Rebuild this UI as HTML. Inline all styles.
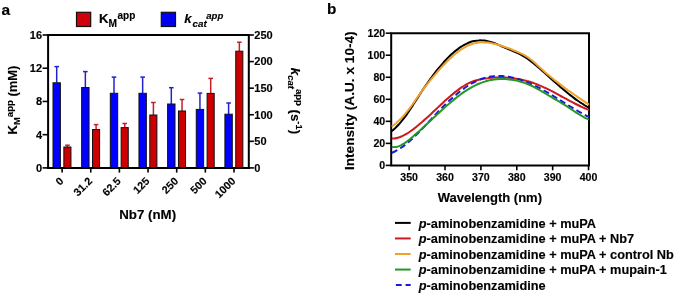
<!DOCTYPE html>
<html><head><meta charset="utf-8"><style>
html,body{margin:0;padding:0;background:#fff;width:675px;height:294px;overflow:hidden;}
svg{display:block;will-change:transform;font-family:"Liberation Sans",sans-serif;}
text{stroke:#000;stroke-width:0.15px;}
</style></head><body>
<svg width="675" height="294" viewBox="0 0 675 294"><text x="1.6" y="14.5" font-size="15.5" font-family="'Liberation Sans', sans-serif" font-weight="bold" fill="#000">a</text>
<rect x="76.5" y="12.3" width="14.2" height="14.2" fill="#d0000a" stroke="#111" stroke-width="1.2"/>
<text x="98.9" y="23.3" font-size="13.2" font-family="'Liberation Sans', sans-serif" font-weight="bold">K</text>
<text x="108.5" y="26.7" font-size="10.2" font-family="'Liberation Sans', sans-serif" font-weight="bold">M</text>
<text x="117.5" y="19.0" font-size="10" font-family="'Liberation Sans', sans-serif" font-weight="bold">app</text>
<rect x="161.3" y="12.3" width="14.2" height="14.2" fill="#0000f0" stroke="#111" stroke-width="1.2"/>
<text x="184.3" y="23.3" font-size="13.2" font-family="'Liberation Sans', sans-serif" font-weight="bold" font-style="italic">k</text>
<text x="192.5" y="26.7" font-size="9.8" font-family="'Liberation Sans', sans-serif" font-weight="bold" font-style="italic">cat</text>
<text x="206.2" y="19.0" font-size="9.6" font-family="'Liberation Sans', sans-serif" font-weight="bold" font-style="italic">app</text>
<path d="M48.10,35.00 H248.80 V167.90 H48.10 Z" fill="none" stroke="#000" stroke-width="2"/>
<line x1="42.6" y1="167.90" x2="48.10" y2="167.90" stroke="#000" stroke-width="1.6"/>
<text x="42.1" y="171.80" font-size="11" font-family="'Liberation Sans', sans-serif" font-weight="bold" text-anchor="end">0</text>
<line x1="42.6" y1="134.68" x2="48.10" y2="134.68" stroke="#000" stroke-width="1.6"/>
<text x="42.1" y="138.58" font-size="11" font-family="'Liberation Sans', sans-serif" font-weight="bold" text-anchor="end">4</text>
<line x1="42.6" y1="101.45" x2="48.10" y2="101.45" stroke="#000" stroke-width="1.6"/>
<text x="42.1" y="105.35" font-size="11" font-family="'Liberation Sans', sans-serif" font-weight="bold" text-anchor="end">8</text>
<line x1="42.6" y1="68.22" x2="48.10" y2="68.22" stroke="#000" stroke-width="1.6"/>
<text x="42.1" y="72.12" font-size="11" font-family="'Liberation Sans', sans-serif" font-weight="bold" text-anchor="end">12</text>
<line x1="42.6" y1="35.00" x2="48.10" y2="35.00" stroke="#000" stroke-width="1.6"/>
<text x="42.1" y="38.90" font-size="11" font-family="'Liberation Sans', sans-serif" font-weight="bold" text-anchor="end">16</text>
<line x1="248.80" y1="167.90" x2="253.9" y2="167.90" stroke="#000" stroke-width="1.6"/>
<text x="254.3" y="171.70" font-size="11" font-family="'Liberation Sans', sans-serif" font-weight="bold">0</text>
<line x1="248.80" y1="141.32" x2="253.9" y2="141.32" stroke="#000" stroke-width="1.6"/>
<text x="254.3" y="145.12" font-size="11" font-family="'Liberation Sans', sans-serif" font-weight="bold">50</text>
<line x1="248.80" y1="114.74" x2="253.9" y2="114.74" stroke="#000" stroke-width="1.6"/>
<text x="254.3" y="118.54" font-size="11" font-family="'Liberation Sans', sans-serif" font-weight="bold">100</text>
<line x1="248.80" y1="88.16" x2="253.9" y2="88.16" stroke="#000" stroke-width="1.6"/>
<text x="254.3" y="91.96" font-size="11" font-family="'Liberation Sans', sans-serif" font-weight="bold">150</text>
<line x1="248.80" y1="61.58" x2="253.9" y2="61.58" stroke="#000" stroke-width="1.6"/>
<text x="254.3" y="65.38" font-size="11" font-family="'Liberation Sans', sans-serif" font-weight="bold">200</text>
<line x1="248.80" y1="35.00" x2="253.9" y2="35.00" stroke="#000" stroke-width="1.6"/>
<text x="254.3" y="38.80" font-size="11" font-family="'Liberation Sans', sans-serif" font-weight="bold">250</text>
<line x1="56.70" y1="66.60" x2="56.70" y2="82.80" stroke="#2222cc" stroke-width="1.5"/>
<line x1="54.40" y1="66.60" x2="59.00" y2="66.60" stroke="#2222cc" stroke-width="1.5"/>
<line x1="67.45" y1="145.20" x2="67.45" y2="147.00" stroke="#c81e2a" stroke-width="1.5"/>
<line x1="65.15" y1="145.20" x2="69.75" y2="145.20" stroke="#c81e2a" stroke-width="1.5"/>
<rect x="53.00" y="82.80" width="7.4" height="85.10" fill="#0000ff" stroke="#111" stroke-width="1"/>
<rect x="63.85" y="147.00" width="7.1" height="20.90" fill="#cc0000" stroke="#111" stroke-width="1"/>
<line x1="62.10" y1="167.90" x2="62.10" y2="172.6" stroke="#000" stroke-width="1.6"/>
<text transform="translate(64.30,181.8) rotate(-45)" font-size="10.8" font-family="'Liberation Sans', sans-serif" font-weight="bold" text-anchor="end">0</text>
<line x1="85.35" y1="71.60" x2="85.35" y2="87.50" stroke="#2222cc" stroke-width="1.5"/>
<line x1="83.05" y1="71.60" x2="87.65" y2="71.60" stroke="#2222cc" stroke-width="1.5"/>
<line x1="96.10" y1="124.60" x2="96.10" y2="129.50" stroke="#c81e2a" stroke-width="1.5"/>
<line x1="93.80" y1="124.60" x2="98.40" y2="124.60" stroke="#c81e2a" stroke-width="1.5"/>
<rect x="81.65" y="87.50" width="7.4" height="80.40" fill="#0000ff" stroke="#111" stroke-width="1"/>
<rect x="92.50" y="129.50" width="7.1" height="38.40" fill="#cc0000" stroke="#111" stroke-width="1"/>
<line x1="90.75" y1="167.90" x2="90.75" y2="172.6" stroke="#000" stroke-width="1.6"/>
<text transform="translate(92.95,181.8) rotate(-45)" font-size="10.8" font-family="'Liberation Sans', sans-serif" font-weight="bold" text-anchor="end">31.2</text>
<line x1="114.00" y1="77.10" x2="114.00" y2="93.30" stroke="#2222cc" stroke-width="1.5"/>
<line x1="111.70" y1="77.10" x2="116.30" y2="77.10" stroke="#2222cc" stroke-width="1.5"/>
<line x1="124.75" y1="123.50" x2="124.75" y2="127.60" stroke="#c81e2a" stroke-width="1.5"/>
<line x1="122.45" y1="123.50" x2="127.05" y2="123.50" stroke="#c81e2a" stroke-width="1.5"/>
<rect x="110.30" y="93.30" width="7.4" height="74.60" fill="#0000ff" stroke="#111" stroke-width="1"/>
<rect x="121.15" y="127.60" width="7.1" height="40.30" fill="#cc0000" stroke="#111" stroke-width="1"/>
<line x1="119.40" y1="167.90" x2="119.40" y2="172.6" stroke="#000" stroke-width="1.6"/>
<text transform="translate(121.60,181.8) rotate(-45)" font-size="10.8" font-family="'Liberation Sans', sans-serif" font-weight="bold" text-anchor="end">62.5</text>
<line x1="142.65" y1="77.10" x2="142.65" y2="93.30" stroke="#2222cc" stroke-width="1.5"/>
<line x1="140.35" y1="77.10" x2="144.95" y2="77.10" stroke="#2222cc" stroke-width="1.5"/>
<line x1="153.40" y1="102.50" x2="153.40" y2="115.00" stroke="#c81e2a" stroke-width="1.5"/>
<line x1="151.10" y1="102.50" x2="155.70" y2="102.50" stroke="#c81e2a" stroke-width="1.5"/>
<rect x="138.95" y="93.30" width="7.4" height="74.60" fill="#0000ff" stroke="#111" stroke-width="1"/>
<rect x="149.80" y="115.00" width="7.1" height="52.90" fill="#cc0000" stroke="#111" stroke-width="1"/>
<line x1="148.05" y1="167.90" x2="148.05" y2="172.6" stroke="#000" stroke-width="1.6"/>
<text transform="translate(150.25,181.8) rotate(-45)" font-size="10.8" font-family="'Liberation Sans', sans-serif" font-weight="bold" text-anchor="end">125</text>
<line x1="171.30" y1="87.70" x2="171.30" y2="104.00" stroke="#2222cc" stroke-width="1.5"/>
<line x1="169.00" y1="87.70" x2="173.60" y2="87.70" stroke="#2222cc" stroke-width="1.5"/>
<line x1="182.05" y1="99.50" x2="182.05" y2="111.00" stroke="#c81e2a" stroke-width="1.5"/>
<line x1="179.75" y1="99.50" x2="184.35" y2="99.50" stroke="#c81e2a" stroke-width="1.5"/>
<rect x="167.60" y="104.00" width="7.4" height="63.90" fill="#0000ff" stroke="#111" stroke-width="1"/>
<rect x="178.45" y="111.00" width="7.1" height="56.90" fill="#cc0000" stroke="#111" stroke-width="1"/>
<line x1="176.70" y1="167.90" x2="176.70" y2="172.6" stroke="#000" stroke-width="1.6"/>
<text transform="translate(178.90,181.8) rotate(-45)" font-size="10.8" font-family="'Liberation Sans', sans-serif" font-weight="bold" text-anchor="end">250</text>
<line x1="199.95" y1="93.10" x2="199.95" y2="109.40" stroke="#2222cc" stroke-width="1.5"/>
<line x1="197.65" y1="93.10" x2="202.25" y2="93.10" stroke="#2222cc" stroke-width="1.5"/>
<line x1="210.70" y1="78.40" x2="210.70" y2="93.40" stroke="#c81e2a" stroke-width="1.5"/>
<line x1="208.40" y1="78.40" x2="213.00" y2="78.40" stroke="#c81e2a" stroke-width="1.5"/>
<rect x="196.25" y="109.40" width="7.4" height="58.50" fill="#0000ff" stroke="#111" stroke-width="1"/>
<rect x="207.10" y="93.40" width="7.1" height="74.50" fill="#cc0000" stroke="#111" stroke-width="1"/>
<line x1="205.35" y1="167.90" x2="205.35" y2="172.6" stroke="#000" stroke-width="1.6"/>
<text transform="translate(207.55,181.8) rotate(-45)" font-size="10.8" font-family="'Liberation Sans', sans-serif" font-weight="bold" text-anchor="end">500</text>
<line x1="228.60" y1="103.00" x2="228.60" y2="114.20" stroke="#2222cc" stroke-width="1.5"/>
<line x1="226.30" y1="103.00" x2="230.90" y2="103.00" stroke="#2222cc" stroke-width="1.5"/>
<line x1="239.35" y1="42.20" x2="239.35" y2="51.20" stroke="#c81e2a" stroke-width="1.5"/>
<line x1="237.05" y1="42.20" x2="241.65" y2="42.20" stroke="#c81e2a" stroke-width="1.5"/>
<rect x="224.90" y="114.20" width="7.4" height="53.70" fill="#0000ff" stroke="#111" stroke-width="1"/>
<rect x="235.75" y="51.20" width="7.1" height="116.70" fill="#cc0000" stroke="#111" stroke-width="1"/>
<line x1="234.00" y1="167.90" x2="234.00" y2="172.6" stroke="#000" stroke-width="1.6"/>
<text transform="translate(236.20,181.8) rotate(-45)" font-size="10.8" font-family="'Liberation Sans', sans-serif" font-weight="bold" text-anchor="end">1000</text>
<line x1="47.10" y1="167.90" x2="249.80" y2="167.90" stroke="#000" stroke-width="2"/>
<text x="147.7" y="218.7" font-size="13.3" font-family="'Liberation Sans', sans-serif" font-weight="bold" text-anchor="middle">Nb7 (nM)</text>
<g transform="translate(17.3,100) rotate(-90)"><text x="0" y="0" font-size="13" font-family="'Liberation Sans', sans-serif" font-weight="bold" text-anchor="middle">K<tspan font-size="9.5" dy="2.6">M</tspan><tspan font-size="9.5" dy="-7.2">app</tspan><tspan dy="4.6"> (mM)</tspan></text></g>
<g transform="translate(291.1,101.0) rotate(90)"><text x="0" y="0" font-size="13.3" font-family="'Liberation Sans', sans-serif" font-weight="bold" text-anchor="middle"><tspan font-style="italic">k</tspan><tspan font-size="9.5" dy="2.6" font-style="italic">cat</tspan><tspan font-size="9.5" dy="-7.2">app</tspan><tspan dy="4.6"> (s</tspan><tspan font-size="9.5" dy="-4.6">-1</tspan><tspan dy="4.6">)</tspan></text></g>
<text x="327.0" y="13.6" font-size="15.3" font-family="'Liberation Sans', sans-serif" font-weight="bold">b</text>
<path d="M391.20,33.20 H589.00 V165.40 H391.20 Z" fill="none" stroke="#000" stroke-width="2"/>
<line x1="385.7" y1="165.40" x2="391.20" y2="165.40" stroke="#000" stroke-width="1.6"/>
<text x="385.2" y="169.20" font-size="10.6" font-family="'Liberation Sans', sans-serif" font-weight="bold" text-anchor="end">0</text>
<line x1="385.7" y1="143.37" x2="391.20" y2="143.37" stroke="#000" stroke-width="1.6"/>
<text x="385.2" y="147.17" font-size="10.6" font-family="'Liberation Sans', sans-serif" font-weight="bold" text-anchor="end">20</text>
<line x1="385.7" y1="121.33" x2="391.20" y2="121.33" stroke="#000" stroke-width="1.6"/>
<text x="385.2" y="125.13" font-size="10.6" font-family="'Liberation Sans', sans-serif" font-weight="bold" text-anchor="end">40</text>
<line x1="385.7" y1="99.30" x2="391.20" y2="99.30" stroke="#000" stroke-width="1.6"/>
<text x="385.2" y="103.10" font-size="10.6" font-family="'Liberation Sans', sans-serif" font-weight="bold" text-anchor="end">60</text>
<line x1="385.7" y1="77.27" x2="391.20" y2="77.27" stroke="#000" stroke-width="1.6"/>
<text x="385.2" y="81.07" font-size="10.6" font-family="'Liberation Sans', sans-serif" font-weight="bold" text-anchor="end">80</text>
<line x1="385.7" y1="55.23" x2="391.20" y2="55.23" stroke="#000" stroke-width="1.6"/>
<text x="385.2" y="59.03" font-size="10.6" font-family="'Liberation Sans', sans-serif" font-weight="bold" text-anchor="end">100</text>
<line x1="385.7" y1="33.20" x2="391.20" y2="33.20" stroke="#000" stroke-width="1.6"/>
<text x="385.2" y="37.00" font-size="10.6" font-family="'Liberation Sans', sans-serif" font-weight="bold" text-anchor="end">120</text>
<line x1="409.14" y1="165.40" x2="409.14" y2="170.3" stroke="#000" stroke-width="1.6"/>
<text x="409.14" y="180.5" font-size="10.6" font-family="'Liberation Sans', sans-serif" font-weight="bold" text-anchor="middle">350</text>
<line x1="445.02" y1="165.40" x2="445.02" y2="170.3" stroke="#000" stroke-width="1.6"/>
<text x="445.02" y="180.5" font-size="10.6" font-family="'Liberation Sans', sans-serif" font-weight="bold" text-anchor="middle">360</text>
<line x1="480.90" y1="165.40" x2="480.90" y2="170.3" stroke="#000" stroke-width="1.6"/>
<text x="480.90" y="180.5" font-size="10.6" font-family="'Liberation Sans', sans-serif" font-weight="bold" text-anchor="middle">370</text>
<line x1="516.78" y1="165.40" x2="516.78" y2="170.3" stroke="#000" stroke-width="1.6"/>
<text x="516.78" y="180.5" font-size="10.6" font-family="'Liberation Sans', sans-serif" font-weight="bold" text-anchor="middle">380</text>
<line x1="552.66" y1="165.40" x2="552.66" y2="170.3" stroke="#000" stroke-width="1.6"/>
<text x="552.66" y="180.5" font-size="10.6" font-family="'Liberation Sans', sans-serif" font-weight="bold" text-anchor="middle">390</text>
<line x1="588.54" y1="165.40" x2="588.54" y2="170.3" stroke="#000" stroke-width="1.6"/>
<text x="588.54" y="180.5" font-size="10.6" font-family="'Liberation Sans', sans-serif" font-weight="bold" text-anchor="middle">400</text>
<text x="489.9" y="202.4" font-size="13" font-family="'Liberation Sans', sans-serif" font-weight="bold" text-anchor="middle">Wavelength (nm)</text>
<g transform="translate(354.1,100.7) rotate(-90)"><text x="0" y="0" font-size="13.65" font-family="'Liberation Sans', sans-serif" font-weight="bold" text-anchor="middle">Intensity (A.U. x 10-4)</text></g>
<g fill="none" stroke-width="2" stroke-linecap="butt">
<path d="M391.80,131.25 C392.3,130.8 393.8,129.5 394.8,128.6 C395.8,127.6 396.8,126.6 397.8,125.5 C398.8,124.4 399.8,123.3 400.8,122.1 C401.8,120.9 402.8,119.7 403.8,118.4 C404.8,117.1 405.8,115.7 406.8,114.3 C407.8,112.9 408.8,111.4 409.8,110.0 C410.8,108.5 411.8,106.9 412.8,105.4 C413.8,103.8 414.8,102.3 415.8,100.7 C416.8,99.1 417.8,97.5 418.8,96.0 C419.8,94.4 420.8,92.9 421.8,91.3 C422.8,89.8 423.8,88.3 424.8,86.9 C425.8,85.4 426.8,83.9 427.8,82.5 C428.8,81.1 429.8,79.7 430.8,78.3 C431.8,77.0 432.8,75.6 433.8,74.3 C434.8,73.0 435.8,71.7 436.8,70.4 C437.8,69.2 438.8,68.0 439.8,66.8 C440.8,65.6 441.8,64.4 442.8,63.3 C443.8,62.1 444.8,61.0 445.8,60.0 C446.8,58.9 447.8,57.9 448.8,56.9 C449.8,55.9 450.8,55.0 451.8,54.0 C452.8,53.1 453.8,52.3 454.8,51.4 C455.8,50.6 456.8,49.8 457.8,49.1 C458.8,48.3 459.8,47.6 460.8,46.9 C461.8,46.3 462.8,45.7 463.8,45.1 C464.8,44.5 465.8,44.0 466.8,43.6 C467.8,43.1 468.8,42.7 469.8,42.3 C470.8,41.9 471.8,41.6 472.8,41.3 C473.8,41.1 474.8,40.8 475.8,40.7 C476.8,40.5 477.8,40.4 478.8,40.4 C479.8,40.3 480.8,40.3 481.8,40.4 C482.8,40.4 483.8,40.5 484.8,40.6 C485.8,40.8 486.8,41.0 487.8,41.2 C488.8,41.4 489.8,41.6 490.8,41.9 C491.8,42.2 492.8,42.6 493.8,42.9 C494.8,43.3 495.8,43.7 496.8,44.1 C497.8,44.5 498.8,44.9 499.8,45.3 C500.8,45.8 501.8,46.2 502.8,46.7 C503.8,47.1 504.8,47.6 505.8,48.0 C506.8,48.4 507.8,48.9 508.8,49.3 C509.8,49.7 510.8,50.1 511.8,50.5 C512.8,50.9 513.8,51.3 514.8,51.8 C515.8,52.2 516.8,52.6 517.8,53.1 C518.8,53.6 519.8,54.1 520.8,54.6 C521.8,55.1 522.8,55.7 523.8,56.3 C524.8,56.9 525.8,57.5 526.8,58.2 C527.8,58.9 528.8,59.6 529.8,60.4 C530.8,61.1 531.8,61.9 532.8,62.7 C533.8,63.5 534.8,64.4 535.8,65.2 C536.8,66.1 537.8,66.9 538.8,67.8 C539.8,68.7 540.8,69.6 541.8,70.4 C542.8,71.3 543.8,72.2 544.8,73.1 C545.8,74.0 546.8,74.9 547.8,75.8 C548.8,76.7 549.8,77.6 550.8,78.5 C551.8,79.4 552.8,80.3 553.8,81.2 C554.8,82.0 555.8,82.9 556.8,83.8 C557.8,84.7 558.8,85.6 559.8,86.4 C560.8,87.3 561.8,88.2 562.8,89.0 C563.8,89.9 564.8,90.7 565.8,91.5 C566.8,92.4 567.8,93.2 568.8,94.0 C569.8,94.8 570.8,95.6 571.8,96.3 C572.8,97.1 573.8,97.9 574.8,98.6 C575.8,99.4 576.8,100.1 577.8,100.8 C578.8,101.5 579.8,102.2 580.8,102.8 C581.8,103.5 582.8,104.1 583.8,104.7 C584.8,105.4 585.9,106.0 586.8,106.5 C587.7,107.0 588.6,107.5 589.0,107.7" stroke="#000"/>
<path d="M391.80,126.48 C392.3,126.1 393.8,125.0 394.8,124.2 C395.8,123.3 396.8,122.5 397.8,121.6 C398.8,120.6 399.8,119.7 400.8,118.7 C401.8,117.6 402.8,116.6 403.8,115.5 C404.8,114.3 405.8,113.2 406.8,111.9 C407.8,110.7 408.8,109.4 409.8,108.1 C410.8,106.8 411.8,105.4 412.8,104.0 C413.8,102.6 414.8,101.1 415.8,99.7 C416.8,98.2 417.8,96.8 418.8,95.3 C419.8,93.9 420.8,92.5 421.8,91.2 C422.8,89.8 423.8,88.5 424.8,87.2 C425.8,85.9 426.8,84.7 427.8,83.4 C428.8,82.2 429.8,80.9 430.8,79.7 C431.8,78.5 432.8,77.3 433.8,76.1 C434.8,74.9 435.8,73.7 436.8,72.6 C437.8,71.4 438.8,70.3 439.8,69.1 C440.8,68.0 441.8,66.9 442.8,65.8 C443.8,64.8 444.8,63.7 445.8,62.7 C446.8,61.7 447.8,60.7 448.8,59.7 C449.8,58.7 450.8,57.8 451.8,56.9 C452.8,56.0 453.8,55.1 454.8,54.3 C455.8,53.4 456.8,52.6 457.8,51.9 C458.8,51.1 459.8,50.4 460.8,49.7 C461.8,49.0 462.8,48.4 463.8,47.8 C464.8,47.2 465.8,46.6 466.8,46.1 C467.8,45.6 468.8,45.2 469.8,44.8 C470.8,44.4 471.8,44.0 472.8,43.7 C473.8,43.4 474.8,43.2 475.8,43.0 C476.8,42.8 477.8,42.6 478.8,42.5 C479.8,42.4 480.8,42.3 481.8,42.3 C482.8,42.3 483.8,42.3 484.8,42.4 C485.8,42.4 486.8,42.5 487.8,42.6 C488.8,42.7 489.8,42.9 490.8,43.1 C491.8,43.3 492.8,43.5 493.8,43.7 C494.8,43.9 495.8,44.2 496.8,44.4 C497.8,44.7 498.8,45.0 499.8,45.3 C500.8,45.6 501.8,45.9 502.8,46.2 C503.8,46.6 504.8,46.9 505.8,47.2 C506.8,47.6 507.8,48.0 508.8,48.3 C509.8,48.7 510.8,49.1 511.8,49.5 C512.8,49.9 513.8,50.3 514.8,50.8 C515.8,51.2 516.8,51.6 517.8,52.0 C518.8,52.5 519.8,52.9 520.8,53.4 C521.8,53.9 522.8,54.3 523.8,54.9 C524.8,55.4 525.8,55.9 526.8,56.6 C527.8,57.2 528.8,57.9 529.8,58.7 C530.8,59.4 531.8,60.3 532.8,61.1 C533.8,62.0 534.8,62.9 535.8,63.8 C536.8,64.7 537.8,65.7 538.8,66.6 C539.8,67.5 540.8,68.4 541.8,69.3 C542.8,70.2 543.8,71.1 544.8,72.0 C545.8,72.8 546.8,73.7 547.8,74.5 C548.8,75.4 549.8,76.2 550.8,77.0 C551.8,77.9 552.8,78.7 553.8,79.5 C554.8,80.3 555.8,81.1 556.8,81.8 C557.8,82.6 558.8,83.4 559.8,84.1 C560.8,84.9 561.8,85.7 562.8,86.4 C563.8,87.1 564.8,87.9 565.8,88.6 C566.8,89.3 567.8,90.1 568.8,90.8 C569.8,91.5 570.8,92.2 571.8,92.9 C572.8,93.6 573.8,94.3 574.8,95.0 C575.8,95.7 576.8,96.4 577.8,97.1 C578.8,97.8 579.8,98.4 580.8,99.1 C581.8,99.8 582.8,100.5 583.8,101.2 C584.8,101.8 585.9,102.6 586.8,103.2 C587.7,103.8 588.6,104.4 589.0,104.7" stroke="#f0a12c"/>
<path d="M391.80,138.41 C392.3,138.4 393.8,138.5 394.8,138.4 C395.8,138.3 396.8,138.1 397.8,137.8 C398.8,137.5 399.8,137.2 400.8,136.8 C401.8,136.4 402.8,135.9 403.8,135.4 C404.8,134.9 405.8,134.3 406.8,133.7 C407.8,133.1 408.8,132.4 409.8,131.7 C410.8,131.0 411.8,130.3 412.8,129.6 C413.8,128.8 414.8,128.0 415.8,127.2 C416.8,126.4 417.8,125.6 418.8,124.8 C419.8,124.0 420.8,123.1 421.8,122.3 C422.8,121.4 423.8,120.5 424.8,119.6 C425.8,118.7 426.8,117.8 427.8,116.9 C428.8,116.0 429.8,115.1 430.8,114.2 C431.8,113.2 432.8,112.3 433.8,111.3 C434.8,110.4 435.8,109.5 436.8,108.5 C437.8,107.6 438.8,106.6 439.8,105.7 C440.8,104.7 441.8,103.8 442.8,102.9 C443.8,102.0 444.8,101.0 445.8,100.1 C446.8,99.2 447.8,98.3 448.8,97.4 C449.8,96.6 450.8,95.7 451.8,94.9 C452.8,94.0 453.8,93.2 454.8,92.4 C455.8,91.6 456.8,90.8 457.8,90.1 C458.8,89.3 459.8,88.6 460.8,87.9 C461.8,87.3 462.8,86.6 463.8,86.0 C464.8,85.4 465.8,84.8 466.8,84.2 C467.8,83.7 468.8,83.2 469.8,82.7 C470.8,82.3 471.8,81.9 472.8,81.5 C473.8,81.1 474.8,80.8 475.8,80.5 C476.8,80.2 477.8,79.9 478.8,79.7 C479.8,79.5 480.8,79.3 481.8,79.1 C482.8,78.9 483.8,78.7 484.8,78.6 C485.8,78.4 486.8,78.3 487.8,78.2 C488.8,78.0 489.8,77.9 490.8,77.8 C491.8,77.7 492.8,77.7 493.8,77.6 C494.8,77.5 495.8,77.5 496.8,77.5 C497.8,77.4 498.8,77.4 499.8,77.4 C500.8,77.4 501.8,77.4 502.8,77.4 C503.8,77.4 504.8,77.5 505.8,77.5 C506.8,77.6 507.8,77.7 508.8,77.7 C509.8,77.8 510.8,77.9 511.8,78.0 C512.8,78.2 513.8,78.3 514.8,78.4 C515.8,78.6 516.8,78.7 517.8,78.9 C518.8,79.1 519.8,79.3 520.8,79.5 C521.8,79.7 522.8,79.9 523.8,80.2 C524.8,80.4 525.8,80.7 526.8,81.0 C527.8,81.2 528.8,81.5 529.8,81.8 C530.8,82.2 531.8,82.5 532.8,82.8 C533.8,83.2 534.8,83.5 535.8,83.9 C536.8,84.3 537.8,84.7 538.8,85.1 C539.8,85.5 540.8,85.9 541.8,86.4 C542.8,86.8 543.8,87.3 544.8,87.7 C545.8,88.2 546.8,88.7 547.8,89.2 C548.8,89.7 549.8,90.2 550.8,90.7 C551.8,91.2 552.8,91.7 553.8,92.2 C554.8,92.8 555.8,93.3 556.8,93.8 C557.8,94.4 558.8,94.9 559.8,95.5 C560.8,96.0 561.8,96.5 562.8,97.1 C563.8,97.6 564.8,98.2 565.8,98.7 C566.8,99.3 567.8,99.8 568.8,100.3 C569.8,100.9 570.8,101.4 571.8,101.9 C572.8,102.5 573.8,103.0 574.8,103.5 C575.8,104.0 576.8,104.5 577.8,105.0 C578.8,105.5 579.8,106.0 580.8,106.5 C581.8,106.9 582.8,107.4 583.8,107.8 C584.8,108.3 585.9,108.7 586.8,109.1 C587.7,109.5 588.6,109.8 589.0,110.0" stroke="#cc1a1e"/>
<path d="M391.80,152.77 C392.3,152.6 393.8,152.0 394.8,151.5 C395.8,151.0 396.8,150.5 397.8,149.9 C398.8,149.3 399.8,148.7 400.8,148.0 C401.8,147.3 402.8,146.6 403.8,145.9 C404.8,145.1 405.8,144.3 406.8,143.5 C407.8,142.7 408.8,141.8 409.8,141.0 C410.8,140.1 411.8,139.2 412.8,138.2 C413.8,137.3 414.8,136.3 415.8,135.3 C416.8,134.4 417.8,133.4 418.8,132.3 C419.8,131.3 420.8,130.3 421.8,129.2 C422.8,128.2 423.8,127.1 424.8,126.1 C425.8,125.0 426.8,123.9 427.8,122.9 C428.8,121.8 429.8,120.7 430.8,119.6 C431.8,118.5 432.8,117.5 433.8,116.4 C434.8,115.3 435.8,114.3 436.8,113.2 C437.8,112.1 438.8,111.1 439.8,110.1 C440.8,109.0 441.8,108.0 442.8,107.0 C443.8,106.0 444.8,105.0 445.8,104.0 C446.8,103.0 447.8,102.1 448.8,101.1 C449.8,100.2 450.8,99.3 451.8,98.4 C452.8,97.5 453.8,96.6 454.8,95.7 C455.8,94.9 456.8,94.0 457.8,93.2 C458.8,92.4 459.8,91.6 460.8,90.8 C461.8,90.0 462.8,89.3 463.8,88.6 C464.8,87.9 465.8,87.2 466.8,86.5 C467.8,85.8 468.8,85.2 469.8,84.6 C470.8,84.0 471.8,83.4 472.8,82.9 C473.8,82.3 474.8,81.8 475.8,81.3 C476.8,80.8 477.8,80.4 478.8,80.0 C479.8,79.6 480.8,79.2 481.8,78.8 C482.8,78.5 483.8,78.2 484.8,77.9 C485.8,77.6 486.8,77.4 487.8,77.2 C488.8,76.9 489.8,76.8 490.8,76.6 C491.8,76.4 492.8,76.3 493.8,76.2 C494.8,76.1 495.8,76.1 496.8,76.0 C497.8,76.0 498.8,76.0 499.8,76.0 C500.8,76.0 501.8,76.1 502.8,76.1 C503.8,76.2 504.8,76.3 505.8,76.4 C506.8,76.5 507.8,76.7 508.8,76.8 C509.8,77.0 510.8,77.2 511.8,77.4 C512.8,77.6 513.8,77.8 514.8,78.1 C515.8,78.4 516.8,78.6 517.8,78.9 C518.8,79.2 519.8,79.5 520.8,79.9 C521.8,80.2 522.8,80.6 523.8,80.9 C524.8,81.3 525.8,81.7 526.8,82.1 C527.8,82.5 528.8,82.9 529.8,83.4 C530.8,83.8 531.8,84.3 532.8,84.7 C533.8,85.2 534.8,85.7 535.8,86.2 C536.8,86.7 537.8,87.2 538.8,87.7 C539.8,88.2 540.8,88.8 541.8,89.3 C542.8,89.9 543.8,90.4 544.8,91.0 C545.8,91.6 546.8,92.1 547.8,92.7 C548.8,93.3 549.8,93.9 550.8,94.5 C551.8,95.1 552.8,95.7 553.8,96.3 C554.8,96.9 555.8,97.5 556.8,98.1 C557.8,98.7 558.8,99.4 559.8,100.0 C560.8,100.6 561.8,101.2 562.8,101.9 C563.8,102.5 564.8,103.1 565.8,103.7 C566.8,104.3 567.8,105.0 568.8,105.6 C569.8,106.2 570.8,106.8 571.8,107.4 C572.8,108.0 573.8,108.6 574.8,109.2 C575.8,109.8 576.8,110.4 577.8,111.0 C578.8,111.6 579.8,112.1 580.8,112.7 C581.8,113.3 582.8,113.8 583.8,114.4 C584.8,114.9 585.9,115.5 586.8,116.0 C587.7,116.4 588.6,116.9 589.0,117.1" stroke="#1a1ad8" stroke-dasharray="6.1,3.5"/>
<path d="M391.80,146.95 C392.3,147.0 393.8,147.2 394.8,147.1 C395.8,147.1 396.8,146.9 397.8,146.6 C398.8,146.3 399.8,145.8 400.8,145.4 C401.8,144.9 402.8,144.3 403.8,143.7 C404.8,143.0 405.8,142.3 406.8,141.6 C407.8,140.8 408.8,140.0 409.8,139.2 C410.8,138.4 411.8,137.6 412.8,136.7 C413.8,135.9 414.8,135.0 415.8,134.1 C416.8,133.2 417.8,132.3 418.8,131.5 C419.8,130.6 420.8,129.7 421.8,128.7 C422.8,127.8 423.8,126.9 424.8,126.0 C425.8,125.1 426.8,124.1 427.8,123.2 C428.8,122.3 429.8,121.3 430.8,120.4 C431.8,119.5 432.8,118.5 433.8,117.6 C434.8,116.7 435.8,115.7 436.8,114.8 C437.8,113.9 438.8,113.0 439.8,112.0 C440.8,111.1 441.8,110.2 442.8,109.3 C443.8,108.4 444.8,107.5 445.8,106.6 C446.8,105.7 447.8,104.8 448.8,104.0 C449.8,103.1 450.8,102.2 451.8,101.4 C452.8,100.6 453.8,99.7 454.8,98.9 C455.8,98.1 456.8,97.3 457.8,96.5 C458.8,95.8 459.8,95.0 460.8,94.3 C461.8,93.5 462.8,92.8 463.8,92.1 C464.8,91.4 465.8,90.8 466.8,90.1 C467.8,89.5 468.8,88.9 469.8,88.3 C470.8,87.7 471.8,87.1 472.8,86.6 C473.8,86.0 474.8,85.5 475.8,85.1 C476.8,84.6 477.8,84.1 478.8,83.7 C479.8,83.3 480.8,82.9 481.8,82.6 C482.8,82.2 483.8,81.9 484.8,81.6 C485.8,81.3 486.8,81.0 487.8,80.8 C488.8,80.5 489.8,80.3 490.8,80.1 C491.8,79.9 492.8,79.7 493.8,79.6 C494.8,79.5 495.8,79.4 496.8,79.3 C497.8,79.2 498.8,79.1 499.8,79.1 C500.8,79.0 501.8,79.0 502.8,79.0 C503.8,79.0 504.8,79.1 505.8,79.1 C506.8,79.2 507.8,79.3 508.8,79.4 C509.8,79.5 510.8,79.6 511.8,79.7 C512.8,79.9 513.8,80.0 514.8,80.2 C515.8,80.4 516.8,80.6 517.8,80.9 C518.8,81.1 519.8,81.4 520.8,81.7 C521.8,81.9 522.8,82.3 523.8,82.6 C524.8,82.9 525.8,83.3 526.8,83.7 C527.8,84.1 528.8,84.5 529.8,85.0 C530.8,85.4 531.8,85.9 532.8,86.4 C533.8,86.9 534.8,87.4 535.8,88.0 C536.8,88.5 537.8,89.1 538.8,89.6 C539.8,90.2 540.8,90.8 541.8,91.4 C542.8,92.0 543.8,92.6 544.8,93.2 C545.8,93.8 546.8,94.4 547.8,95.0 C548.8,95.6 549.8,96.1 550.8,96.7 C551.8,97.3 552.8,97.9 553.8,98.5 C554.8,99.0 555.8,99.6 556.8,100.2 C557.8,100.8 558.8,101.4 559.8,102.0 C560.8,102.6 561.8,103.2 562.8,103.8 C563.8,104.4 564.8,105.1 565.8,105.7 C566.8,106.3 567.8,107.0 568.8,107.7 C569.8,108.3 570.8,109.0 571.8,109.7 C572.8,110.3 573.8,111.0 574.8,111.7 C575.8,112.3 576.8,113.0 577.8,113.6 C578.8,114.2 579.8,114.8 580.8,115.4 C581.8,116.0 582.8,116.6 583.8,117.1 C584.8,117.7 585.9,118.2 586.8,118.7 C587.7,119.1 588.6,119.5 589.0,119.7" stroke="#24962a"/>
</g>
<line x1="395.00" y1="222.90" x2="410.7" y2="222.90" stroke="#000" stroke-width="2"/>
<text x="418.8" y="227.65" font-size="12.75" font-family="'Liberation Sans', sans-serif" font-weight="bold"><tspan font-style="italic">p</tspan>-aminobenzamidine + muPA</text>
<line x1="395.00" y1="238.45" x2="410.7" y2="238.45" stroke="#cc1a1e" stroke-width="2"/>
<text x="418.8" y="243.20" font-size="12.75" font-family="'Liberation Sans', sans-serif" font-weight="bold"><tspan font-style="italic">p</tspan>-aminobenzamidine + muPA + Nb7</text>
<line x1="395.00" y1="254.00" x2="410.7" y2="254.00" stroke="#f0a12c" stroke-width="2"/>
<text x="418.8" y="258.75" font-size="12.75" font-family="'Liberation Sans', sans-serif" font-weight="bold"><tspan font-style="italic">p</tspan>-aminobenzamidine + muPA + control Nb</text>
<line x1="395.00" y1="269.55" x2="410.7" y2="269.55" stroke="#24962a" stroke-width="2"/>
<text x="418.8" y="274.30" font-size="12.75" font-family="'Liberation Sans', sans-serif" font-weight="bold"><tspan font-style="italic">p</tspan>-aminobenzamidine + muPA + mupain-1</text>
<line x1="395.90" y1="285.10" x2="410.7" y2="285.10" stroke="#1a1ad8" stroke-width="2" stroke-dasharray="5.8,3.9"/>
<text x="418.8" y="289.85" font-size="12.75" font-family="'Liberation Sans', sans-serif" font-weight="bold"><tspan font-style="italic">p</tspan>-aminobenzamidine</text></svg>
</body></html>
